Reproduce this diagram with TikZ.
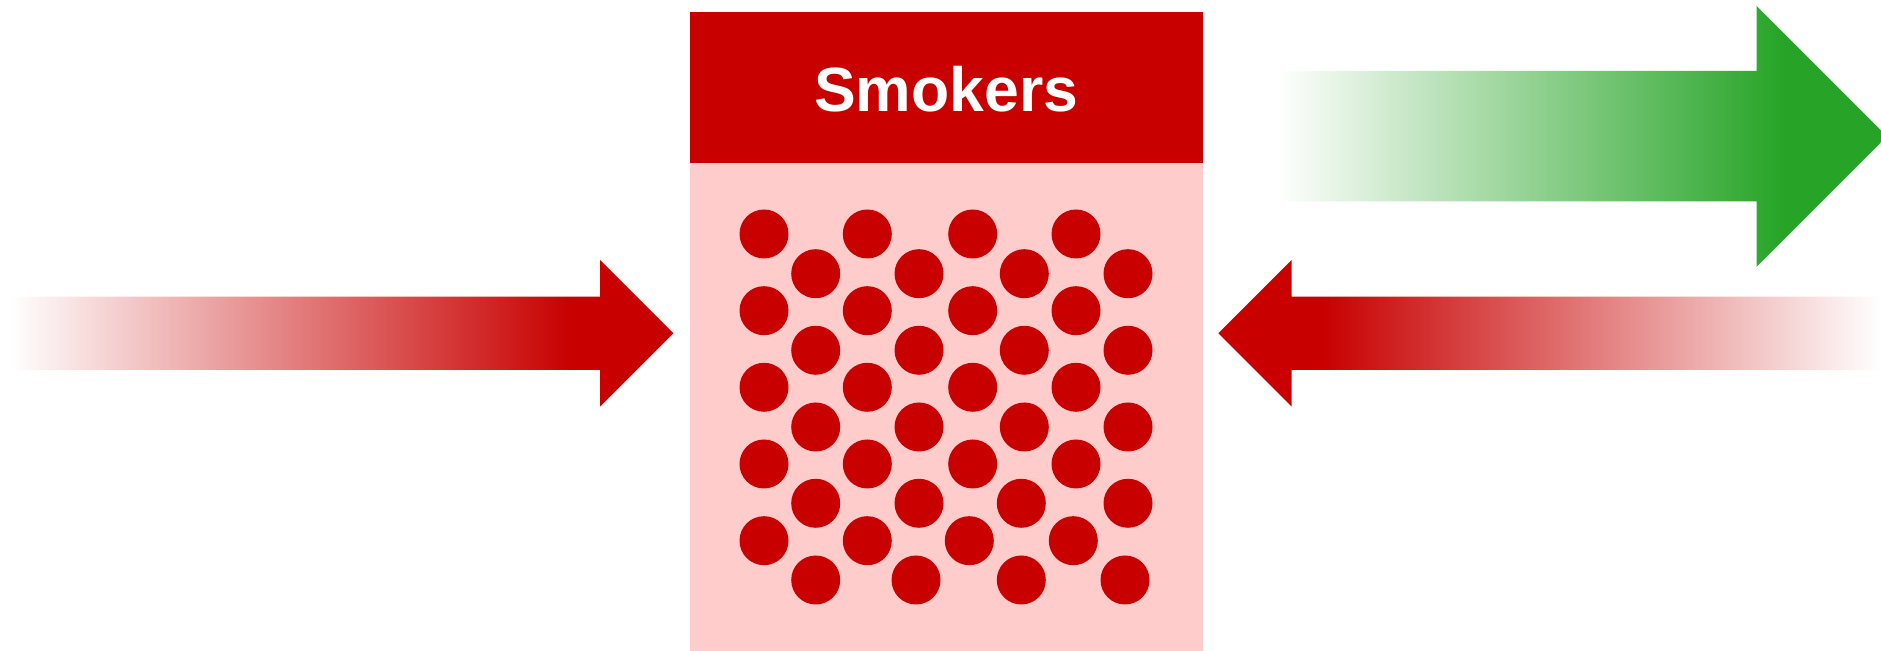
\documentclass[tikz,border=0pt]{standalone}
\usepackage{fontspec}
\newfontfamily\headfont{Liberation Sans}
\definecolor{smokered}{RGB}{200,0,0}
\definecolor{roompink}{RGB}{255,204,204}
\definecolor{cleangreen}{RGB}{39,164,39}
\pgfdeclarehorizontalshading{infade}{100bp}{color(0bp)=(white); color(25bp)=(white); color(67.3bp)=(smokered); color(100bp)=(smokered)}
\pgfdeclarehorizontalshading{backfade}{100bp}{color(0bp)=(smokered); color(32.8bp)=(smokered); color(75bp)=(white); color(100bp)=(white)}
\pgfdeclarehorizontalshading{outfade}{100bp}{color(0bp)=(white); color(25bp)=(white); color(66.5bp)=(cleangreen); color(100bp)=(cleangreen)}

\begin{document}
\begin{tikzpicture}[x=0.5pt,y=0.5pt,
        smokedot/.style={fill=smokered},
        headtext/.style={text=white,inner sep=0pt,font=\headfont\bfseries\fontsize{31.25}{36}\selectfont}]
                \useasboundingbox (0,0) rectangle (1881,651);
                \fill[roompink] (690,0) rectangle (1202.7,488);
                \fill[smokered] (690,488) rectangle (1202.7,639);
                \node[headtext] (smokers) at (946.3,561.5) {Smokers};
                \foreach \y/\xs in {417/{764,867.3,972.7,1076},340.3/{764,867.3,972.7,1076},263.7/{764,867.3,972.7,1076},187/{764,867.3,972.7,1076},110.3/{764,867.3,969.3,1073.3},377.3/{815.7,919,1024.3,1128},300.7/{815.7,919,1024.3,1128},224/{815.7,919,1024.3,1128},147.7/{815.7,919,1021.3,1128},71/{815.7,916,1021.3,1125}}{
                    \foreach \x in \xs{
                        \fill[smokedot] (\x,\y) circle[radius=12.25pt];
                    }
                }
                \shade[shading=infade] (10,281) -- (600,281) -- (600,244.3) -- (673.3,317.7) -- (600,391) -- (600,354.3) -- (10,354.3) -- cycle;
                \shade[shading=backfade] (1881,281) -- (1291.7,281) -- (1291.7,244.3) -- (1218.3,317.7) -- (1291.7,391) -- (1291.7,354.3) -- (1881,354.3) -- cycle;
                \shade[shading=outfade] (1276.7,449.7) -- (1756.7,449.7) -- (1756.7,384.3) -- (1887,514.7) -- (1756.7,645) -- (1756.7,580) -- (1276.7,580) -- cycle;
            \end{tikzpicture}
\end{document}
